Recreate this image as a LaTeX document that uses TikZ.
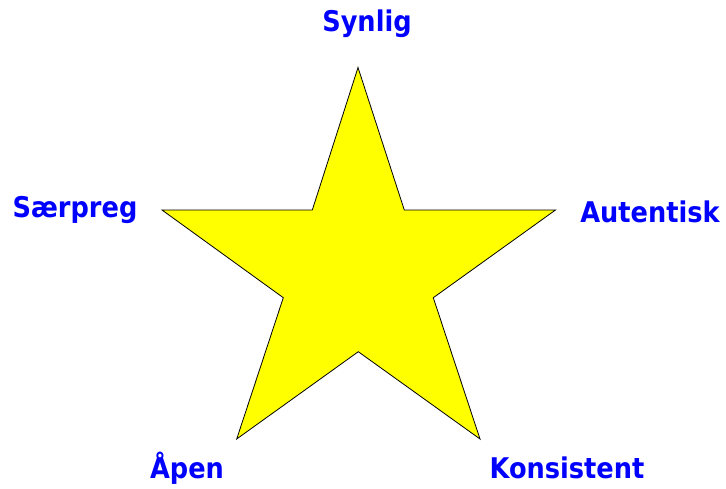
\documentclass[tikz,border=0pt]{standalone}
\usepackage{fontspec}
\setmainfont{DejaVu Sans Condensed}
\definecolor{staryellow}{RGB}{255,255,0}
\definecolor{lblblue}{RGB}{0,0,255}
\begin{document}
\begin{tikzpicture}[x=1pt,y=-1pt,
  lbl/.style={text=lblblue,font=\fontsize{28.5}{32}\selectfont\bfseries,inner sep=0pt,anchor=center},
  starshape/.style={fill=staryellow,draw=black,line width=0.8pt,line join=miter}]
\useasboundingbox (0,0) rectangle (726,488);
\coordinate (t) at (358,67.5);
\coordinate (iur) at (404.3,210);
\coordinate (r) at (555.5,210);
\coordinate (ir) at (433.3,297.7);
\coordinate (br) at (480,439);
\coordinate (ib) at (358.3,351.7);
\coordinate (bl) at (236.7,439);
\coordinate (il) at (283.3,297.7);
\coordinate (l) at (162,210);
\coordinate (iul) at (312.3,210);
\draw[starshape] (t) -- (iur) -- (r) -- (ir) -- (br) -- (ib) -- (bl) -- (il) -- (l) -- (iul) -- cycle;
\node[lbl] (synlig) at (367,24) {Synlig};
\node[lbl] (saerpreg) at (75,210) {Særpreg};
\node[lbl] (autentisk) at (650,212) {Autentisk};
\node[lbl] (apen) at (187,468) {Åpen};
\node[lbl] (konsistent) at (567,468) {Konsistent};
\end{tikzpicture}
\end{document}
